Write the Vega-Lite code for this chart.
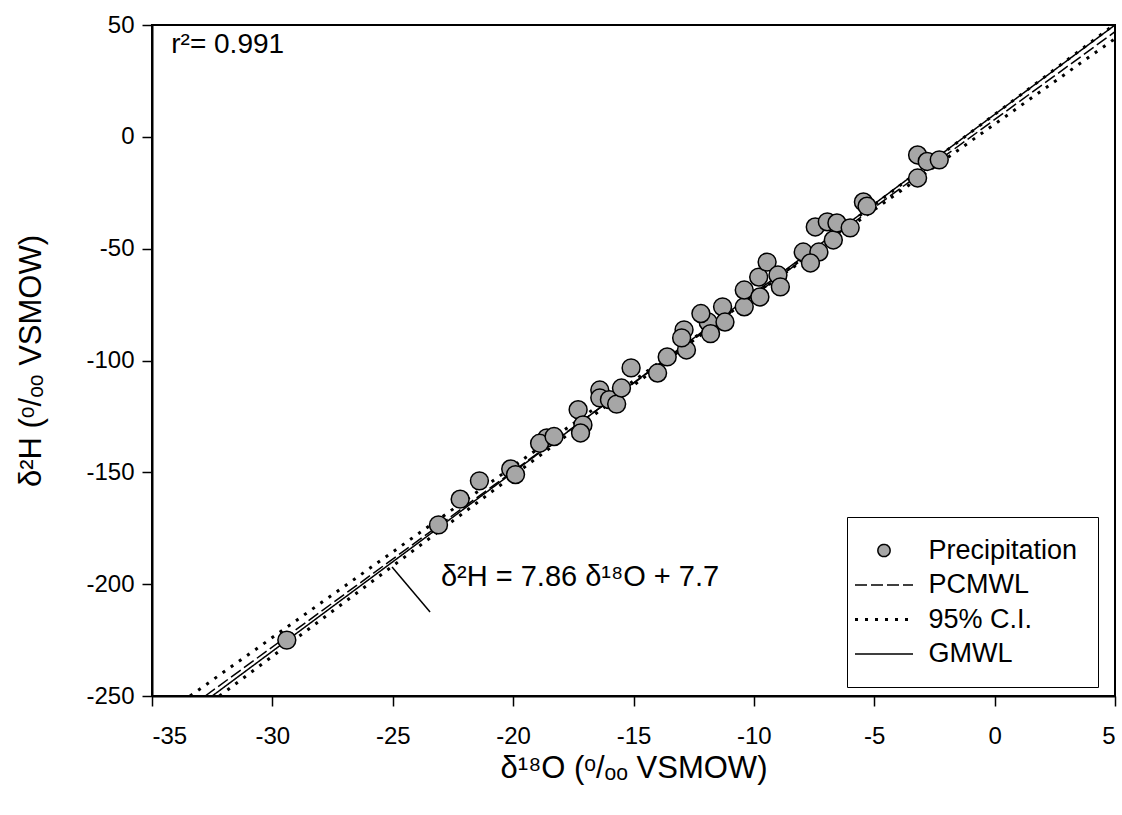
{
  "$schema": "https://vega.github.io/schema/vega-lite/v6.json",
  "width": 963,
  "height": 671,
  "autosize": {"type": "none"},
  "padding": {"left": 152, "top": 25, "right": 7, "bottom": 119},
  "background": "white",
  "config": {
    "font": "Liberation Sans",
    "view": {"stroke": "black", "strokeWidth": 2},
    "axis": {
      "grid": false,
      "domainColor": "black",
      "domainWidth": 2,
      "tickColor": "black",
      "tickSize": 10,
      "tickWidth": 1.5,
      "labelFontSize": 24,
      "labelColor": "black",
      "labelFont": "Liberation Sans",
      "titleFont": "Liberation Sans",
      "titleFontSize": 31,
      "titleFontWeight": "normal",
      "titleColor": "black",
      "labelExpr": "toString(datum.value)"
    }
  },
  "datasets": {
    "pts": [
      {"d18O": -29.4, "d2H": -225},
      {"d18O": -23.1, "d2H": -173.5},
      {"d18O": -22.2, "d2H": -162},
      {"d18O": -21.4, "d2H": -153.8},
      {"d18O": -20.1, "d2H": -148.5},
      {"d18O": -19.9, "d2H": -151},
      {"d18O": -18.6, "d2H": -134.6},
      {"d18O": -18.9, "d2H": -137},
      {"d18O": -18.3, "d2H": -134},
      {"d18O": -17.3, "d2H": -122},
      {"d18O": -17.1, "d2H": -128.8},
      {"d18O": -17.2, "d2H": -132.4},
      {"d18O": -16.4, "d2H": -113.2},
      {"d18O": -16.4, "d2H": -116.7},
      {"d18O": -16.0, "d2H": -117.5},
      {"d18O": -15.7, "d2H": -119.5},
      {"d18O": -15.5, "d2H": -112.3},
      {"d18O": -15.1, "d2H": -103.3},
      {"d18O": -14.0, "d2H": -105.6},
      {"d18O": -13.6, "d2H": -98.4},
      {"d18O": -12.8, "d2H": -95.3},
      {"d18O": -12.9, "d2H": -86.3},
      {"d18O": -13.0, "d2H": -89.9},
      {"d18O": -11.9, "d2H": -82.8},
      {"d18O": -11.8, "d2H": -88},
      {"d18O": -12.2, "d2H": -79},
      {"d18O": -11.3, "d2H": -76},
      {"d18O": -11.2, "d2H": -82.8},
      {"d18O": -10.4, "d2H": -76},
      {"d18O": -10.4, "d2H": -68.5},
      {"d18O": -9.75, "d2H": -71.6},
      {"d18O": -9.8, "d2H": -62.7},
      {"d18O": -9.45, "d2H": -56},
      {"d18O": -9.0, "d2H": -61.8},
      {"d18O": -8.9, "d2H": -67.1},
      {"d18O": -7.95, "d2H": -51.5},
      {"d18O": -7.3, "d2H": -51.5},
      {"d18O": -7.65, "d2H": -56.4},
      {"d18O": -7.45, "d2H": -40.3},
      {"d18O": -6.95, "d2H": -38},
      {"d18O": -6.7, "d2H": -46.1},
      {"d18O": -6.55, "d2H": -38.5},
      {"d18O": -6.0, "d2H": -40.7},
      {"d18O": -5.45, "d2H": -29.1},
      {"d18O": -5.3, "d2H": -31},
      {"d18O": -3.2, "d2H": -18.4},
      {"d18O": -3.2, "d2H": -8.1},
      {"d18O": -2.8, "d2H": -11},
      {"d18O": -2.3, "d2H": -10.3}
    ],
    "lines": [
      {"series": "GMWL", "id": "g", "d18O": -32.5, "d2H": -250},
      {"series": "GMWL", "id": "g", "d18O": 5, "d2H": 50},
      {"series": "PCMWL", "id": "p", "d18O": -32.79, "d2H": -250},
      {"series": "PCMWL", "id": "p", "d18O": 5, "d2H": 47.0}
    ],
    "ci": [
      {"series": "95% C.I.", "id": "c1", "d18O": -33.42, "d2H": -250},
      {"series": "95% C.I.", "id": "c1", "d18O": 5, "d2H": 43.9},
      {"series": "95% C.I.", "id": "c2", "d18O": -32.2, "d2H": -250},
      {"series": "95% C.I.", "id": "c2", "d18O": 4.95, "d2H": 50}
    ],
    "leader": [
      {"x1": -25.03, "y1": -192.3, "x2": -23.45, "y2": -212.4}
    ],
    "labels": [
      {"d18O": -34.2, "d2H": 41, "label": "r²= 0.991", "size": 28},
      {"d18O": -23.0, "d2H": -197, "label": "δ²H = 7.86 δ¹⁸O + 7.7", "size": 29}
    ]
  },
  "layer": [
    {
      "data": {"name": "lines"},
      "mark": {"type": "line", "color": "black", "strokeWidth": 1.5},
      "encoding": {
        "x": {"field": "d18O", "type": "quantitative", "scale": {"domain": [-35, 5], "nice": false, "zero": false}, "axis": {"values": [-35, -30, -25, -20, -15, -10, -5, 0, 5], "labelPadding": 18, "titlePadding": 5}, "title": "δ¹⁸O (ᵒ/ₒₒ VSMOW)"},
        "y": {"field": "d2H", "type": "quantitative", "scale": {"domain": [-250, 50], "nice": false, "zero": false}, "axis": {"values": [-250, -200, -150, -100, -50, 0, 50], "labelPadding": 8, "titlePadding": 38}, "title": "δ²H (ᵒ/ₒₒ VSMOW)"},
        "detail": {"field": "id"},
        "strokeDash": {
          "field": "series", "type": "nominal",
          "scale": {"domain": ["Precipitation", "PCMWL", "95% C.I.", "GMWL"], "range": [[1, 0], [12, 4], [3, 7], [1, 0]]},
          "legend": {
            "title": null,
            "orient": "none",
            "legendX": 695,
            "legendY": 492,
            "labelFontSize": 27,
            "labelFont": "Liberation Sans",
            "labelColor": "black",
            "strokeColor": "black",
            "fillColor": "white",
            "padding": 20,
            "rowPadding": 6.5,
            "labelOffset": 31,
            "symbolOffset": 3.5,
            "symbolType": "stroke",
            "symbolSize": 100,
            "symbolStrokeColor": "black",
            "symbolStrokeWidth": 1.5,
            "encode": {
              "symbols": {
                "update": {
                  "shape": {"signal": "datum.value === 'Precipitation' ? 'circle' : 'stroke'"},
                  "size": {"signal": "datum.value === 'Precipitation' ? 150 : 3364"},
                  "fill": {"signal": "datum.value === 'Precipitation' ? '#a6a6a6' : 'transparent'"},
                  "stroke": {"value": "black"},
                  "strokeWidth": {"signal": "datum.value === '95% C.I.' ? 3 : 1.5"}
                }
              }
            }
          }
        }
      }
    },
    {
      "data": {"name": "ci"},
      "mark": {"type": "line", "color": "black", "strokeWidth": 3},
      "encoding": {
        "x": {"field": "d18O", "type": "quantitative"},
        "y": {"field": "d2H", "type": "quantitative"},
        "detail": {"field": "id"},
        "strokeDash": {"field": "series", "type": "nominal"}
      }
    },
    {
      "data": {"name": "pts"},
      "mark": {"type": "point", "shape": "circle", "filled": true, "fill": "#a6a6a6", "stroke": "black", "strokeWidth": 1.5, "size": 320, "opacity": 1},
      "encoding": {
        "x": {"field": "d18O", "type": "quantitative"},
        "y": {"field": "d2H", "type": "quantitative"}
      }
    },
    {
      "data": {"name": "leader"},
      "mark": {"type": "rule", "color": "black", "strokeWidth": 1.5},
      "encoding": {
        "x": {"field": "x1", "type": "quantitative"},
        "y": {"field": "y1", "type": "quantitative"},
        "x2": {"field": "x2"},
        "y2": {"field": "y2"}
      }
    },
    {
      "data": {"name": "labels"},
      "mark": {"type": "text", "align": "left", "baseline": "middle", "font": "Liberation Sans", "color": "black"},
      "encoding": {
        "x": {"field": "d18O", "type": "quantitative"},
        "y": {"field": "d2H", "type": "quantitative"},
        "text": {"field": "label"},
        "size": {"field": "size", "type": "quantitative", "scale": null}
      }
    }
  ]
}
